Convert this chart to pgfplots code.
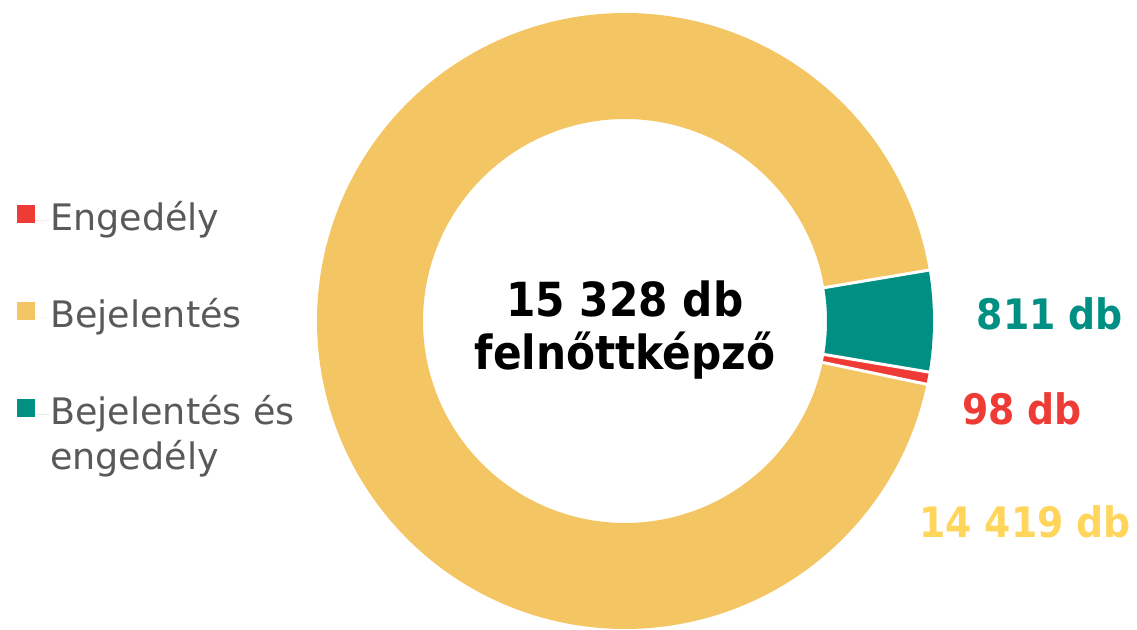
\documentclass[border=0pt]{standalone}
\usepackage{fontspec}
\setmainfont{DejaVu Sans}
\newfontfamily\condfont{DejaVu Sans Condensed}[BoldFont={DejaVu Sans Condensed Bold}]
\usepackage{pgfplots}
\usepackage{pgfplotstable}
\pgfplotsset{compat=1.18}
\definecolor{cYellow}{HTML}{F4C563}
\definecolor{cTeal}{HTML}{009083}
\definecolor{cRed}{HTML}{EF3B36}
\definecolor{cLabelYellow}{HTML}{FFD55C}
\definecolor{cLegend}{HTML}{595959}

\pgfplotstableread{
series value
Teal 811
Red 98
Yellow 14419
}\donutdata

\begin{document}%
\begin{tikzpicture}
\pgfplotstablegetelem{0}{value}\of\donutdata \let\vTeal\pgfplotsretval
\pgfplotstablegetelem{1}{value}\of\donutdata \let\vRed\pgfplotsretval
\pgfplotstablegetelem{2}{value}\of\donutdata \let\vYellow\pgfplotsretval
\pgfmathsetmacro\total{\vTeal+\vRed+\vYellow}
\pgfmathsetmacro\aA{9.5}
\pgfmathsetmacro\aB{\aA-(\vTeal/\total)*360}
\pgfmathsetmacro\aC{\aB-(\vRed/\total)*360}
\pgfmathsetmacro\aD{\aA-360}
\pgfmathsetmacro\xAi{625+198*cos(\aA)}\pgfmathsetmacro\yAi{308+198*sin(\aA)}
\pgfmathsetmacro\xAo{625+312*cos(\aA)}\pgfmathsetmacro\yAo{308+312*sin(\aA)}
\pgfmathsetmacro\xBi{625+198*cos(\aB)}\pgfmathsetmacro\yBi{308+198*sin(\aB)}
\pgfmathsetmacro\xBo{625+312*cos(\aB)}\pgfmathsetmacro\yBo{308+312*sin(\aB)}
\pgfmathsetmacro\xCi{625+198*cos(\aC)}\pgfmathsetmacro\yCi{308+198*sin(\aC)}
\pgfmathsetmacro\xCo{625+312*cos(\aC)}\pgfmathsetmacro\yCo{308+312*sin(\aC)}
\begin{axis}[x=1pt,y=1pt,xmin=0,xmax=1137,ymin=0,ymax=629,hide axis,clip=false,
  legend style={at={(axis cs:14,429)}, anchor=north west, draw=none, fill=none,
    font=\fontsize{36.5}{45}\selectfont, text=cLegend,
    nodes={inner sep=0pt, text height=28pt, text depth=9pt},
    row sep=60pt},
  legend cell align=left,
  legend image code/.code={\path (0pt,0pt) -- (33pt,0pt); \fill[#1] (0pt,-2pt) rectangle (18pt,16pt);},
]
\path (rel axis cs:0,0) rectangle (rel axis cs:1,1);
\addlegendimage{fill=cRed, draw=none}
\addlegendentry{Engedély}
\addlegendimage{fill=cYellow, draw=none}
\addlegendentry{Bejelentés}
\addlegendimage{fill=cTeal, draw=none}
\addlegendentry{\begin{tabular}[t]{@{}l@{}}Bejelentés és\\engedély\end{tabular}}

\addplot[cYellow, line width=106pt, line cap=butt, domain=\aD:\aC, samples=400, variable=\t, forget plot]
  ({625+255*cos(\t)},{308+255*sin(\t)});
\addplot[cTeal, line width=106pt, line cap=butt, domain=\aB:\aA, samples=40, variable=\t, forget plot]
  ({625+255*cos(\t)},{308+255*sin(\t)});
\addplot[cRed, line width=106pt, line cap=butt, domain=\aC:\aB, samples=10, variable=\t, forget plot]
  ({625+255*cos(\t)},{308+255*sin(\t)});

\addplot[white, line width=3pt, forget plot] coordinates {(\xAi,\yAi) (\xAo,\yAo)};
\addplot[white, line width=3pt, forget plot] coordinates {(\xBi,\yBi) (\xBo,\yBo)};
\addplot[white, line width=3pt, forget plot] coordinates {(\xCi,\yCi) (\xCo,\yCo)};

\node[anchor=base, font=\fontsize{47}{56}\selectfont\condfont\bfseries] at (axis cs:625,312) {15 328 db};
\node[anchor=base, font=\fontsize{47}{56}\selectfont\condfont\bfseries] at (axis cs:625,259) {felnőttképző};
\node[anchor=base, text=cTeal, font=\fontsize{42}{50}\selectfont\condfont\bfseries] at (axis cs:1050,299) {811 db};
\node[anchor=base, text=cRed, font=\fontsize{42}{50}\selectfont\condfont\bfseries] at (axis cs:1022,204) {98 db};
\node[anchor=base, text=cLabelYellow, font=\fontsize{42}{50}\selectfont\condfont\bfseries] at (axis cs:1025,92) {14 419 db};
\end{axis}
\end{tikzpicture}%
\end{document}
